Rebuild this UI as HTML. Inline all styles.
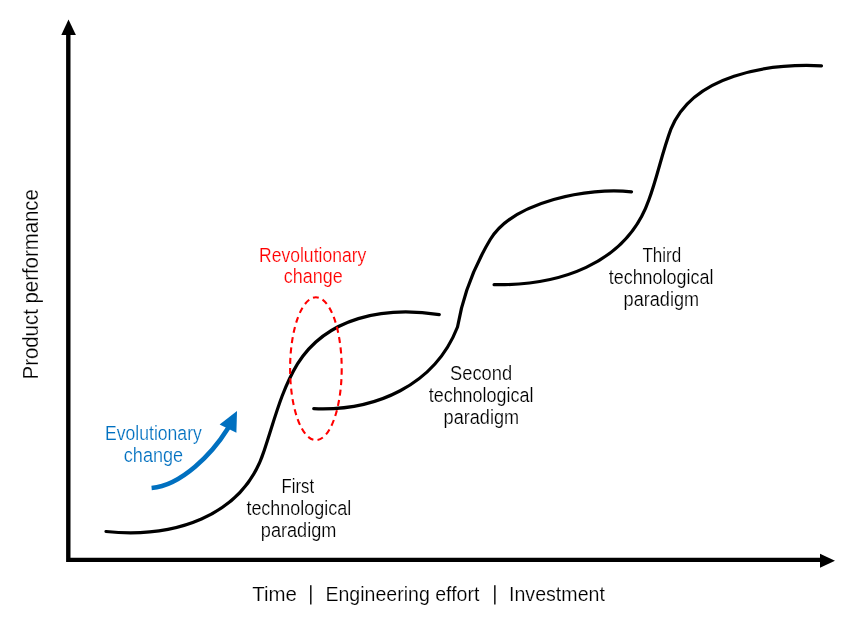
<!DOCTYPE html>
<html><head><meta charset="utf-8">
<style>
html,body{margin:0;padding:0;background:#fff;width:855px;height:625px;overflow:hidden}
svg{display:block;will-change:transform}
text{font-family:"Liberation Sans",sans-serif}
</style></head>
<body>
<svg width="855" height="625" viewBox="0 0 855 625">
<rect width="855" height="625" fill="#fff"/>
<!-- axes -->
<path d="M68.3,33 L68.3,559.9 L821,559.9" fill="none" stroke="#000" stroke-width="4.4" stroke-linejoin="miter"/>
<path d="M68.5,19.5 L61.3,35.1 L75.9,35.1 Z" fill="#000"/>
<path d="M835,560.8 L820,553.8 L820,567.8 Z" fill="#000"/>
<!-- curves -->
<g fill="none" stroke="#000" stroke-width="3.2" stroke-linecap="round">
<path d="M106.0,531.5 C171.2,538.1 242.6,518.4 264.2,450.5 C274.5,420.1 280.9,391.5 297.5,363.9 C326.7,317.4 383.3,306.1 439.3,314.6"/>
<path d="M313.7,408.7 C375.4,411.4 434.7,385.4 457.5,327.0 C462.7,296.5 473.2,268.1 490.4,239.3 C513.7,201.3 588.9,186.9 631.5,191.9"/>
<path d="M494.1,284.6 C556.2,285.8 625.9,265.6 648.9,199.8 C657.3,177.1 662.1,152.6 670.9,129.1 C692.7,74.8 767.3,63.3 821.5,65.8"/>
</g>
<!-- ellipse -->
<ellipse cx="315.9" cy="368.7" rx="25.8" ry="71.4" fill="none" stroke="#f00" stroke-width="2.1" stroke-dasharray="6,4.35" stroke-dashoffset="10.05"/>
<!-- blue arrow -->
<path d="M151.6,488 C181.5,485.3 212.3,453.5 227.5,429 L230.1,424.8" fill="none" stroke="#0070C0" stroke-width="4.6" stroke-linecap="butt"/>
<path d="M237,411.1 L219.6,424.5 L236.4,432.8 Z" fill="#0070C0"/>
<!-- labels -->
<g stroke="#fff" stroke-width="0.2">
<text x="281.54" y="492.8" font-size="19.5" fill="#000" textLength="32.52" lengthAdjust="spacingAndGlyphs">First</text>
<text x="246.4" y="515.3" font-size="19.5" fill="#000" textLength="104.76" lengthAdjust="spacingAndGlyphs">technological</text>
<text x="260.8" y="536.9" font-size="19.5" fill="#000" textLength="75.58" lengthAdjust="spacingAndGlyphs">paradigm</text>
<text x="450.0" y="379.6" font-size="19.5" fill="#000" textLength="62.13" lengthAdjust="spacingAndGlyphs">Second</text>
<text x="428.7" y="402.1" font-size="19.5" fill="#000" textLength="104.76" lengthAdjust="spacingAndGlyphs">technological</text>
<text x="443.6" y="424.2" font-size="19.5" fill="#000" textLength="75.48" lengthAdjust="spacingAndGlyphs">paradigm</text>
<text x="642.4" y="261.6" font-size="19.5" fill="#000" textLength="38.88" lengthAdjust="spacingAndGlyphs">Third</text>
<text x="608.7" y="283.7" font-size="19.5" fill="#000" textLength="104.76" lengthAdjust="spacingAndGlyphs">technological</text>
<text x="623.6" y="305.7" font-size="19.5" fill="#000" textLength="75.48" lengthAdjust="spacingAndGlyphs">paradigm</text>
<text x="105.0" y="440.0" font-size="19.5" fill="#0070C0" textLength="96.78" lengthAdjust="spacingAndGlyphs">Evolutionary</text>
<text x="123.8" y="462.3" font-size="19.5" fill="#0070C0" textLength="59.39" lengthAdjust="spacingAndGlyphs">change</text>
<text x="259.0" y="262.0" font-size="19.5" fill="#f00" textLength="107.31" lengthAdjust="spacingAndGlyphs">Revolutionary</text>
<text x="283.8" y="283.3" font-size="19.5" fill="#f00" textLength="58.89" lengthAdjust="spacingAndGlyphs">change</text>
<text x="252.2" y="600.8" font-size="21.1" fill="#000" textLength="44.69" lengthAdjust="spacingAndGlyphs">Time</text>
<text x="325.47" y="600.8" font-size="21.1" fill="#000" textLength="153.93" lengthAdjust="spacingAndGlyphs">Engineering effort</text>
<text x="508.97" y="600.8" font-size="21.1" fill="#000" textLength="95.97" lengthAdjust="spacingAndGlyphs">Investment</text>
<text transform="translate(37.8,378.5) rotate(-90)" x="-0.94" y="0" font-size="21.7" fill="#000" textLength="190.32" lengthAdjust="spacingAndGlyphs">Product performance</text>
<rect x="310.1" y="585.2" width="1.4" height="19.3" fill="#000" stroke="none"/>
<rect x="494.15" y="585.2" width="1.4" height="19.3" fill="#000" stroke="none"/>
</g>
</svg>
</body></html>
